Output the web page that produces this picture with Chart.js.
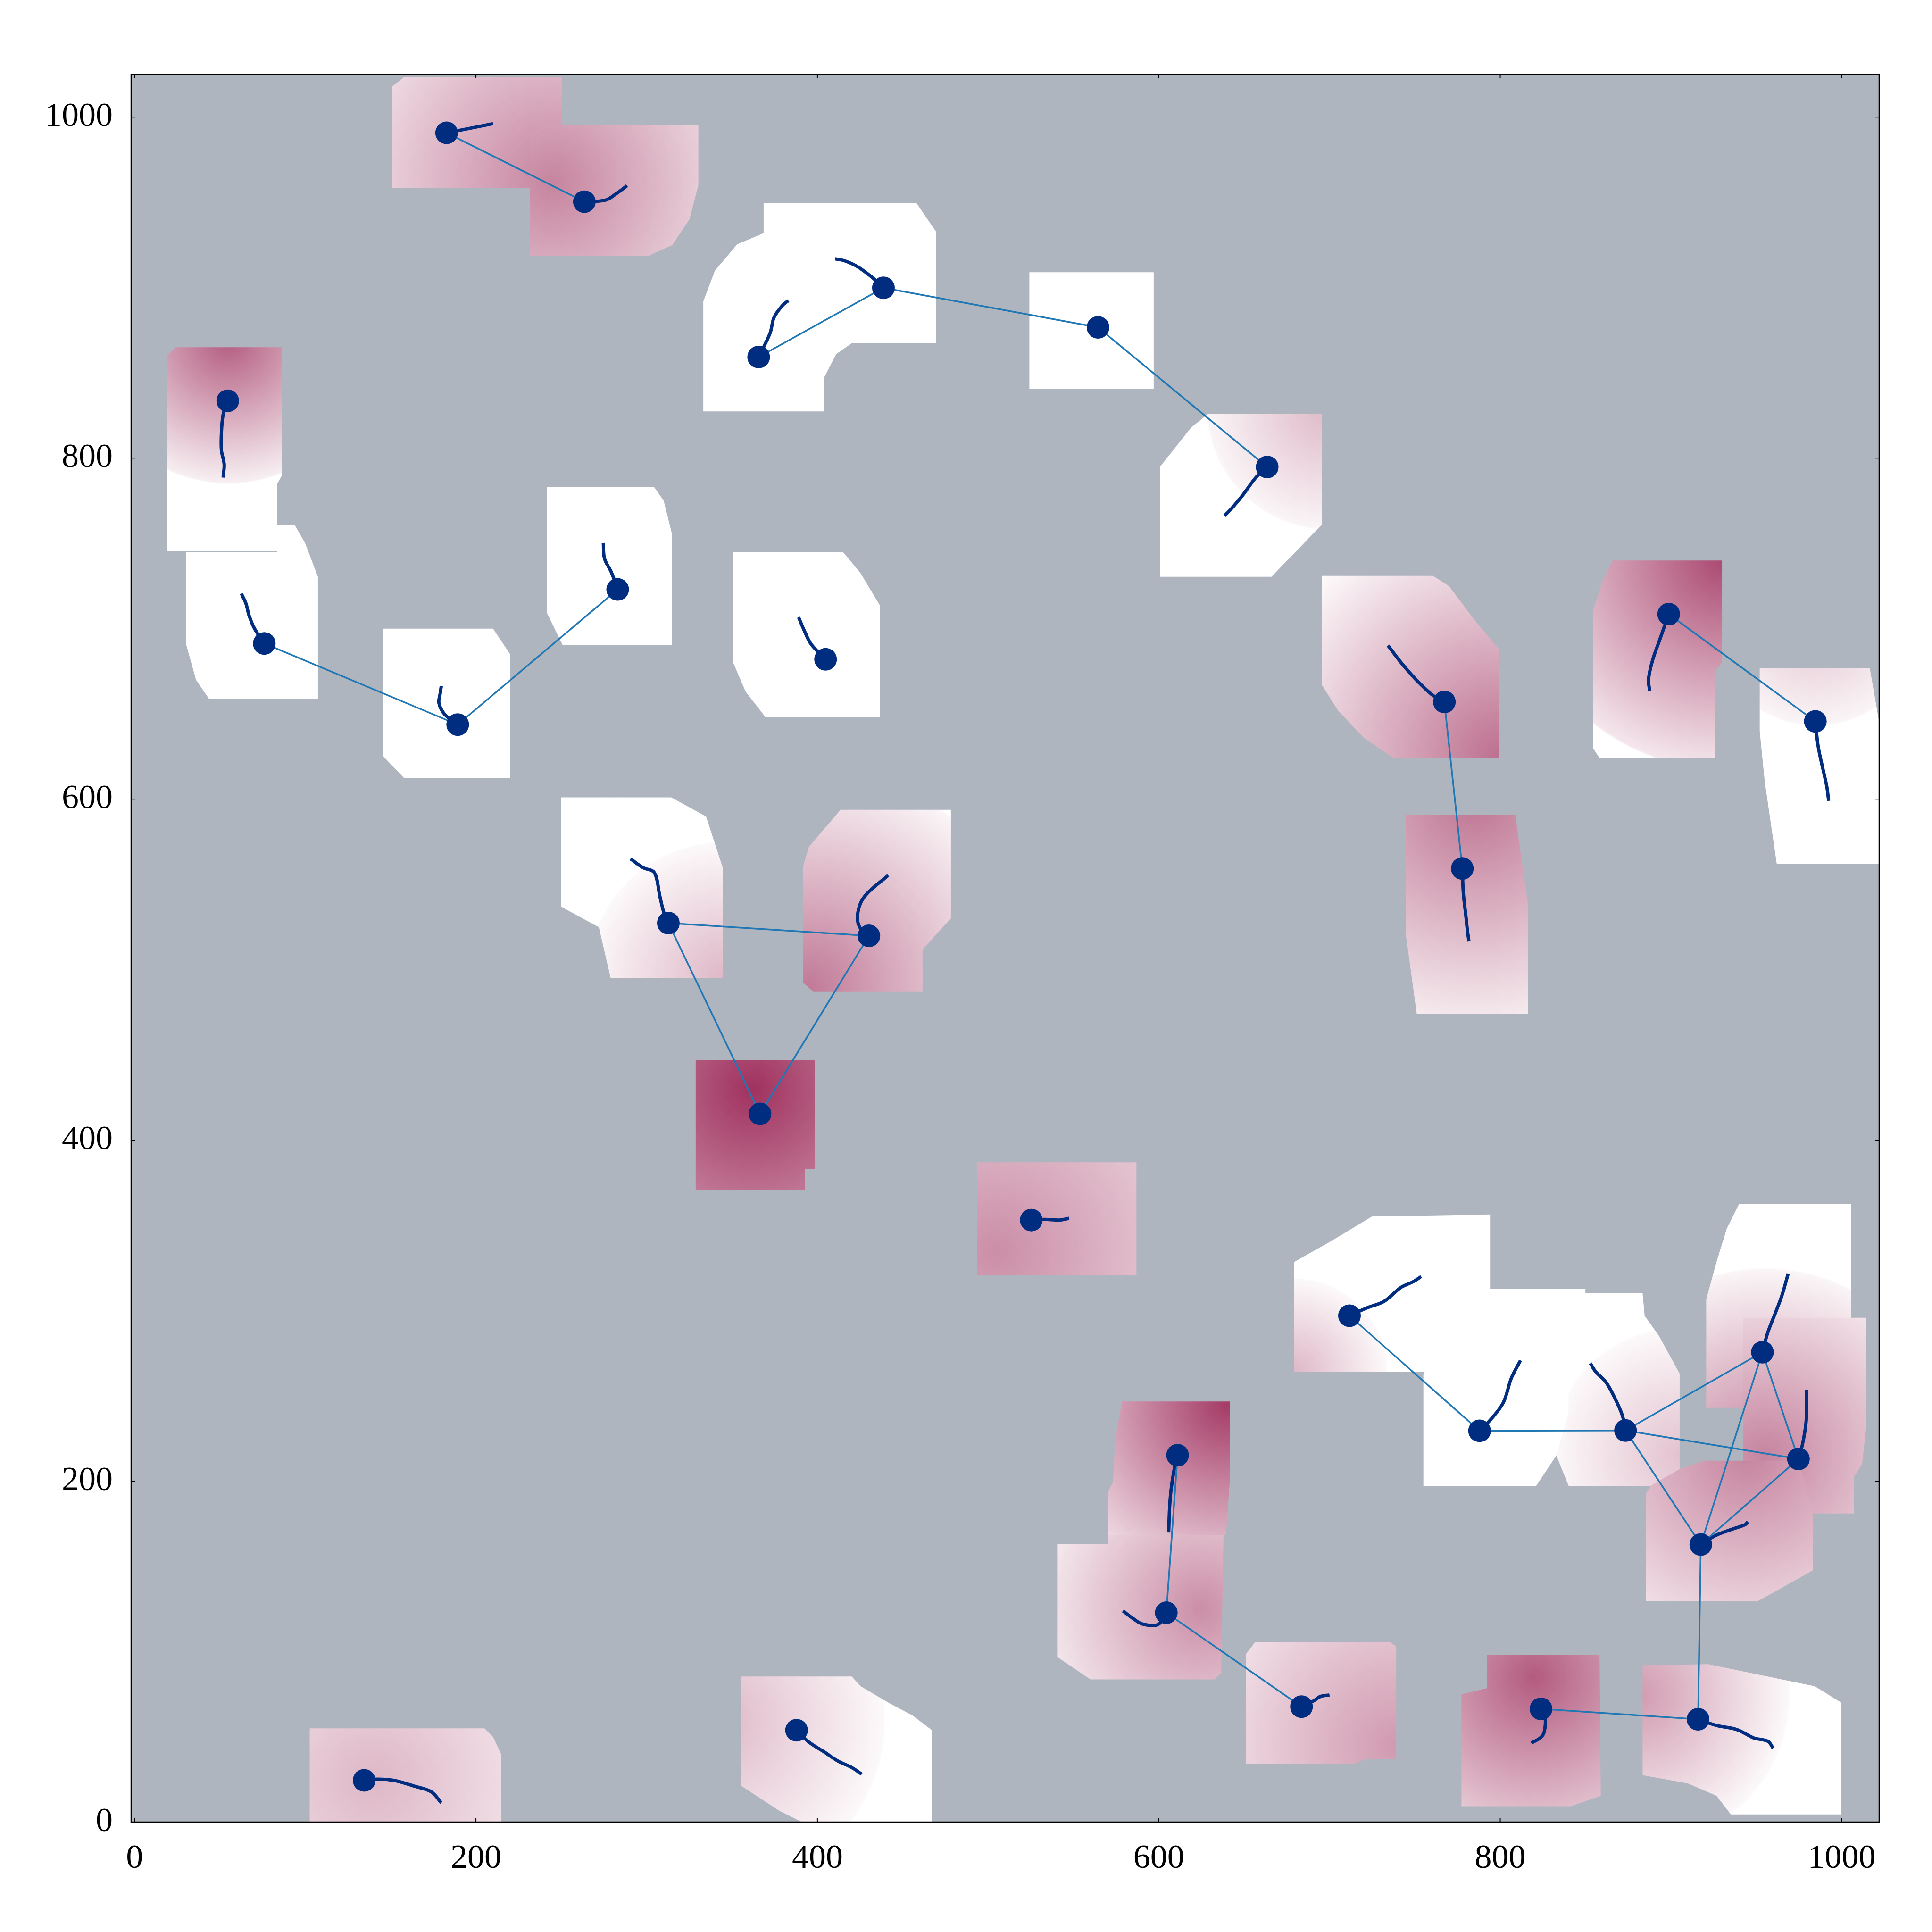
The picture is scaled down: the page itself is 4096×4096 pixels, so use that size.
<!DOCTYPE html>
<html>
<head>
<meta charset="utf-8">
<script src="https://cdn.jsdelivr.net/npm/chart.js@4.4.1/dist/chart.umd.min.js"></script>
<style>
  html, body { margin: 0; padding: 0; background: #ffffff; }
  canvas { display: block; }
</style>
</head>
<body>
<canvas id="myChart" width="4096" height="4096"></canvas>
<script>
// node positions (data units)
const nodeX = [182.8, 263.5, 438.7, 365.6, 564.4, 663.5, 54.6, 76, 189.3, 283, 404.8, 767.3, 898.7, 984.6, 777.8, 312.7,
  430.2, 366.4, 525.3, 711.7, 787.9, 873.4, 953.6, 974.7, 611, 917.5, 604.4, 683.6, 823.9, 915.9, 387.8, 134.5];
const nodeY = [990.8, 950.4, 899.9, 859.3, 876.7, 794.8, 833.6, 691.3, 643.7, 723, 682, 657, 708.5, 645.6, 559.3, 527.3,
  519.8, 415.4, 353.1, 297, 229.5, 229.7, 275.6, 213, 215.2, 162.8, 122.8, 67.7, 66.4, 60.3, 53.9, 24.5];

// links between nodes (indices)
const edgeFrom = [0, 2, 2, 4, 7, 8, 11, 12, 15, 15, 16, 19, 20, 21, 21, 22, 21, 22, 23, 25, 28, 24, 26];
const edgeTo   = [1, 3, 4, 5, 8, 9, 14, 13, 16, 17, 17, 20, 21, 22, 23, 23, 25, 25, 25, 29, 29, 26, 27];

// trail of each node (points after the node itself)
const trails = [
  [[195.6, 993.3], [210, 996.2]],
  [[276, 951.4], [282, 955], [288.5, 959.8]],
  [[431.5, 906.5], [423, 912.6], [415.8, 915.8], [410.4, 916.9]],
  [[372.3, 873.3], [374.6, 882.5], [379.7, 889.7], [383, 892.4]],
  [],
  [[657, 788.8], [649.2, 778.3], [642.6, 770.4], [638.5, 766.2]],
  [[51.9, 825.6], [50.9, 815.1], [50.9, 804.5], [52.5, 796.5], [51.9, 788.6]],
  [[70.3, 700], [67, 708], [65.3, 714.6], [62.6, 720.5]],
  [[181.6, 649.8], [178.3, 656.4], [179, 661.7], [179.7, 666.4]],
  [[279.3, 733.1], [275.3, 741.1], [274.6, 750.3]],
  [[396.4, 690.8], [392.4, 698.7], [389, 706.7]],
  [[760.5, 660.9], [750.4, 670.4], [742, 680], [734.3, 690.1]],
  [[893.7, 694.2], [889.3, 681.6], [886.9, 670.4], [887.6, 663.2]],
  [[986.3, 630.7], [989.7, 614.8], [991.4, 606.9], [992.4, 599]],
  [[778.4, 545], [779.8, 532.3], [780.8, 522.8], [781.7, 516.5]],
  [[310.2, 533], [307.7, 543.1], [304.5, 556.9], [297.9, 559.8], [290.5, 565]],
  [[424.8, 524.9], [423.5, 531], [425.3, 539], [429.7, 545.2], [441.5, 555.3]],
  [],
  [[533.2, 353.5], [541.8, 353.1], [547.5, 354.1]],
  [[722.5, 301.8], [732.1, 305.5], [741.7, 313.5], [748.9, 316.9], [753.7, 320]],
  [[794.6, 236.3], [801.8, 246], [806.6, 260.6], [811.9, 270.8]],
  [[871.5, 238.7], [866.7, 249.6], [861.8, 258.2], [855.9, 264.2], [852.8, 269.1]],
  [[956.8, 287.3], [961.5, 299.4], [965.1, 309.1], [968.7, 321.7]],
  [[977.1, 221.7], [979.1, 233.8], [979.5, 243.6], [979.5, 253.7]],
  [[608.9, 206.2], [607.1, 194.2], [606.3, 183.9], [605.8, 169.8]],
  [[926.6, 168.3], [936.2, 171.9], [943.4, 174.4], [945.1, 176.1]],
  [[599.6, 115.9], [590.4, 116.2], [585.1, 119.3], [579, 123.9]],
  [[690.7, 71.1], [694.7, 73.7], [700, 74.6]],
  [[826.3, 61.5], [825.8, 53], [823.5, 49.4], [818.2, 46.4]],
  [[926.7, 56.7], [938.8, 54.2], [948.4, 49.4], [956.8, 47.4], [959.9, 43.3]],
  [[394.9, 47], [404.2, 41], [412.1, 35.8], [420, 32.1], [426, 28.1]],
  [[142.3, 25.2], [151.8, 24.5], [164.5, 20.9], [173.9, 17.7], [179.7, 11.3]]
];

// area covered around each node (outline in data units)
const patchShapes = [
  [[151, 958.5], [250.4, 958.5], [250.4, 1023.6], [158, 1023.6], [151, 1018]],
  [[231.6, 918.6], [301, 918.6], [315, 925], [325, 940], [330.3, 960], [330.3, 995.4], [240, 995.4], [231.6, 990]],
  [[368.5, 867.3], [368.5, 949.7], [458, 949.7], [469.4, 933], [469.4, 867.3]],
  [[333.2, 827.4], [403.8, 827.4], [403.8, 847], [411, 861], [420, 867.3], [420, 932], [368.5, 932], [353, 925.4], [340, 910], [333.2, 892]],
  [[524.2, 840.6], [524.2, 909], [597, 909], [597, 840.6]],
  [[600.8, 795], [619, 818], [629, 826], [695.5, 826], [695.5, 761], [683, 748], [666, 730.4], [600.8, 730.4]],
  [[19.1, 745.6], [19.1, 860], [24, 865], [86.4, 865], [86.4, 790], [83.6, 785], [83.6, 745.6]],
  [[30.2, 745], [83.6, 745], [83.6, 761], [93.7, 761], [100, 750], [107.4, 730.4], [107.4, 659], [43.5, 659], [36, 670], [30.2, 690.9]],
  [[145.8, 625], [145.8, 700], [210, 700], [220, 685], [220, 612.2], [158, 612.2]],
  [[241.5, 709.4], [241.5, 783], [304.4, 783], [310, 775], [314.8, 755.6], [314.8, 690.3], [250.8, 690.3]],
  [[350.6, 680.2], [350.6, 745], [414.9, 745], [425, 733], [436.5, 713.8], [436.5, 648], [369.7, 648], [358, 663]],
  [[695.5, 667], [695.5, 731], [760.6, 731], [770, 725], [785, 705], [799.3, 688], [799.3, 624.4], [737, 624.4], [720, 636], [705, 652]],
  [[854.3, 630], [854.3, 710], [860, 728], [865.7, 740], [930, 740], [930, 680], [925.6, 675], [925.6, 624.4], [858, 624.4]],
  [[952, 640], [952, 677], [1016.5, 677], [1022, 645], [1022, 562], [962, 562], [955, 610]],
  [[744.8, 520], [744.8, 590.8], [808.8, 590.8], [816.2, 538.6], [816.2, 474.2], [751.1, 474.2]],
  [[249.8, 537], [249.8, 601], [314.4, 601], [334.8, 589.8], [344.7, 559.4], [344.7, 495.1], [278.9, 495.1], [272, 524.9]],
  [[391.5, 492.5], [391.5, 560], [395, 572], [413.6, 593.8], [478.2, 593.8], [478.2, 530], [461.6, 511.8], [461.6, 487], [397.7, 487]],
  [[328.7, 370.8], [328.7, 447], [398.4, 447], [398.4, 383], [392.7, 383], [392.7, 370.8]],
  [[493.6, 320.7], [493.6, 387], [586.9, 387], [586.9, 320.7]],
  [[679.3, 264.2], [679.3, 328.5], [700.9, 340.7], [724.9, 355.2], [794.1, 356.4], [794.1, 264.2]],
  [[755, 197], [755, 263], [768.2, 277.5], [773, 312.7], [849.9, 312.7], [849.9, 240], [832.9, 215], [820.9, 197]],
  [[840.2, 197], [832.9, 215], [840, 240], [840, 310.3], [883.4, 310.3], [884.6, 297], [893.1, 285], [905.1, 263], [905.1, 197]],
  [[920.7, 243], [920.7, 306.7], [926.7, 328.5], [932.7, 348], [939.9, 362.5], [1005.5, 362.5], [1005.5, 243]],
  [[942.3, 181], [1007.1, 181], [1007.1, 202.3], [1012, 210], [1014.4, 231.4], [1014.4, 295.8], [942.3, 295.8]],
  [[570, 168.3], [570, 193.3], [573.2, 199.4], [574.5, 225], [578.5, 246.7], [641.8, 246.7], [641.8, 202.8], [639.3, 168.3]],
  [[885.4, 129.5], [885.4, 192.6], [888.3, 197.4], [905, 207], [919.5, 212], [974.7, 212], [983.2, 183], [983.2, 147.7], [963.9, 136.8], [950.6, 129.5]],
  [[540.5, 96.9], [540.5, 163.2], [570, 163.2], [570, 168.3], [637.9, 168.3], [636.6, 87.4], [632.6, 83.7], [560, 83.7], [546.8, 92.6]],
  [[651.1, 34.1], [651.1, 98.6], [656.4, 105.5], [735.6, 105.5], [739.1, 103], [739.1, 37.1], [719.8, 36.7], [714.5, 34.1]],
  [[777.3, 9.3], [777.3, 75], [792.2, 78.5], [792.2, 98], [858.2, 98], [858.9, 15.4], [841.4, 9.3]],
  [[883.4, 27.5], [883.4, 92], [921.9, 92.6], [984.3, 79.7], [999.9, 70], [999.9, 4.5], [935.1, 4.5], [926.7, 15.4], [909.9, 22.7]],
  [[355.4, 21.2], [355.4, 85.4], [420.1, 85.4], [425.4, 79.7], [441.2, 70.3], [455.8, 62.5], [467.1, 53.9], [467.1, 0], [391, 0], [377.8, 6.6], [364.6, 15.2]],
  [[102.6, 0], [102.6, 55], [205, 55], [210, 50], [214.7, 40], [214.7, 0]]
];

// shading of each area: centre x, centre y, radius, strength at centre, strength at rim (null = white)
const patchShade = [
  [245, 962, 130, 0.6, 0.12],
  [245, 962, 130, 0.6, 0.08],
  null, null, null,
  [700, 830, 72, 0.35, 0.05],
  [55, 870, 85, 0.8, 0.08],
  null, null, null, null,
  [800, 625, 150, 0.7, 0.02],
  [932, 742, 125, 0.9, 0.12],
  [985, 705, 62, 0.3, 0.05],
  [785, 600, 140, 0.68, 0.06],
  [345, 495, 80, 0.35, 0.03],
  [395, 490, 130, 0.65, 0.05],
  [362, 430, 120, 1.0, 0.4],
  [505, 335, 130, 0.55, 0.2],
  [679, 264, 55, 0.35, 0.03],
  null,
  [905, 215, 75, 0.3, 0.03],
  [955, 215, 110, 0.6, 0.05],
  [955, 215, 110, 0.6, 0.1],
  [640, 245, 110, 0.95, 0.15],
  [945, 215, 120, 0.6, 0.1],
  [625, 125, 100, 0.55, 0.08],
  [740, 45, 110, 0.5, 0.15],
  [820, 85, 100, 0.8, 0.2],
  [880, 75, 90, 0.5, 0.03],
  [340, 60, 100, 0.35, 0.03],
  [140, 25, 110, 0.35, 0.1]
];

const xTicks = [0, 200, 400, 600, 800, 1000];
const yTicks = [0, 200, 400, 600, 800, 1000];

function tint(t) {
  return `rgb(${Math.round(255 - 95 * t)},${Math.round(255 - 205 * t)},${Math.round(255 - 160 * t)})`;
}

// gray field, areas and frame
const fieldPlugin = {
  id: 'field',
  beforeDatasetsDraw(chart) {
    const { ctx, chartArea: a, scales: { x, y } } = chart;
    ctx.save();
    ctx.beginPath();
    ctx.rect(a.left, a.top, a.width, a.height);
    ctx.clip();
    ctx.fillStyle = '#aeb5bf';
    ctx.fillRect(a.left, a.top, a.width, a.height);
    patchShapes.forEach((poly, i) => {
      ctx.beginPath();
      poly.forEach(([px, py], j) => {
        const X = x.getPixelForValue(px), Y = y.getPixelForValue(py);
        if (j === 0) ctx.moveTo(X, Y); else ctx.lineTo(X, Y);
      });
      ctx.closePath();
      const g = patchShade[i];
      if (g) {
        const cx = x.getPixelForValue(g[0]), cy = y.getPixelForValue(g[1]);
        const r = Math.abs(x.getPixelForValue(g[0] + g[2]) - cx);
        const grad = ctx.createRadialGradient(cx, cy, 0, cx, cy, r);
        grad.addColorStop(0, tint(g[3]));
        grad.addColorStop(0.99, tint(g[4]));
        grad.addColorStop(1, '#ffffff');
        ctx.fillStyle = grad;
      } else {
        ctx.fillStyle = '#ffffff';
      }
      ctx.fill();
    });
    ctx.restore();
  },
  afterDatasetsDraw(chart) {
    const { ctx, chartArea: a, scales: { x, y } } = chart;
    ctx.save();
    ctx.strokeStyle = '#000000';
    ctx.lineWidth = 2.5;
    ctx.strokeRect(a.left, a.top, a.width, a.height);
    ctx.lineWidth = 2;
    ctx.beginPath();
    xTicks.forEach(v => {
      const X = x.getPixelForValue(v);
      ctx.moveTo(X, a.bottom); ctx.lineTo(X, a.bottom - 8);
      ctx.moveTo(X, a.top); ctx.lineTo(X, a.top + 8);
    });
    yTicks.forEach(v => {
      const Y = y.getPixelForValue(v);
      ctx.moveTo(a.left, Y); ctx.lineTo(a.left + 8, Y);
      ctx.moveTo(a.right, Y); ctx.lineTo(a.right - 8, Y);
    });
    ctx.stroke();
    ctx.restore();
  }
};

const datasets = [];

// nodes on top
datasets.push({
  data: nodeX.map((v, i) => ({ x: v, y: nodeY[i] })),
  pointRadius: 24,
  pointBackgroundColor: '#002d80',
  pointBorderWidth: 0,
  order: 0
});

// links
edgeFrom.forEach((a, k) => {
  const b = edgeTo[k];
  datasets.push({
    data: [{ x: nodeX[a], y: nodeY[a] }, { x: nodeX[b], y: nodeY[b] }],
    showLine: true,
    borderColor: '#1f77b4',
    borderWidth: 3.5,
    pointRadius: 0,
    order: 1
  });
});

// trails
trails.forEach((t, i) => {
  if (!t.length) return;
  const pts = [{ x: nodeX[i], y: nodeY[i] }].concat(t.map(p => ({ x: p[0], y: p[1] })));
  datasets.push({
    data: pts,
    showLine: true,
    borderColor: '#002d80',
    borderWidth: 7,
    pointRadius: 0,
    tension: 0.35,
    borderCapStyle: 'butt',
    order: 2
  });
});

const tickFont = { family: "'Liberation Serif', 'DejaVu Serif', serif", size: 72 };

let ctx = document.getElementById('myChart').getContext('2d');
let myChart = new Chart(ctx, {
  type: 'scatter',
  data: { datasets: datasets },
  options: {
    responsive: false,
    animation: false,
    devicePixelRatio: 1,
    layout: { padding: { top: 158, right: 112, left: 0, bottom: 0 } },
    plugins: {
      legend: { display: false },
      tooltip: { enabled: false }
    },
    scales: {
      x: {
        type: 'linear',
        min: -2,
        max: 1022,
        grid: { display: false, drawTicks: false },
        border: { display: false },
        ticks: { font: tickFont, color: '#000000', padding: 35, maxRotation: 0, autoSkip: false, callback: v => String(v) },
        afterBuildTicks: s => { s.ticks = xTicks.map(v => ({ value: v })); },
        afterFit: s => { s.height = 233; }
      },
      y: {
        type: 'linear',
        min: 0,
        max: 1025,
        grid: { display: false, drawTicks: false },
        border: { display: false },
        ticks: { font: tickFont, color: '#000000', padding: 39, autoSkip: false, callback: v => String(v) },
        afterBuildTicks: s => { s.ticks = yTicks.map(v => ({ value: v })); },
        afterFit: s => { s.width = 278; }
      }
    }
  },
  plugins: [fieldPlugin]
});
</script>
</body>
</html>
